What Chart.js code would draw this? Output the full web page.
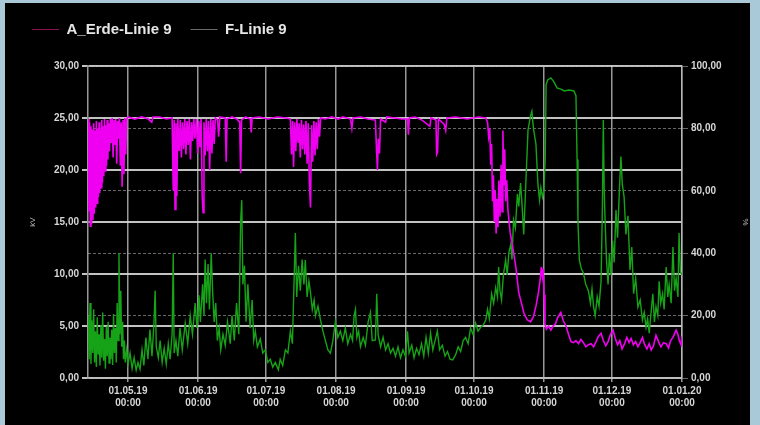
<!DOCTYPE html>
<html>
<head>
<meta charset="utf-8">
<script src="https://cdn.jsdelivr.net/npm/chart.js@4.4.1/dist/chart.umd.min.js"></script>
<style>
    body { margin: 0; background: #a9c8d8; }
    #wrap { position: absolute; left: 5px; top: 3px; width: 745px; height: 422px; background: #000; }
</style>
</head>
<body>
<div id="wrap"><canvas id="canvas"></canvas></div>
<script>
// x = days since 01.05.19
const monthDays = [0, 31, 61, 92, 123, 153, 184, 214, 245];
const monthLabels = ['01.05.19', '01.06.19', '01.07.19', '01.08.19', '01.09.19', '01.10.19', '01.11.19', '01.12.19', '01.01.20'];
const timeLabel = '00:00';

const seriesNames = ['A_Erde-Linie 9', 'F-Linie 9'];

// A_Erde-Linie 9, kV (left axis)
const erdePoints = [
    [-17.6, 24.9], [-17.3, 16.0], [-17.0, 24.6], [-16.7, 14.6], [-16.4, 24.2], [-16.1, 14.8], [-15.8, 23.9], [-15.5, 15.2],
    [-15.2, 24.5], [-14.9, 15.8], [-14.6, 23.8], [-14.3, 16.4], [-14.0, 24.7], [-13.7, 16.8], [-13.4, 24.0], [-13.1, 17.4],
    [-12.8, 24.6], [-12.5, 17.8], [-12.2, 23.9], [-11.9, 18.3], [-11.6, 24.8], [-11.3, 18.8], [-11.0, 24.2], [-10.7, 19.4],
    [-10.4, 24.9], [-10.1, 19.9], [-9.8, 24.3], [-9.5, 20.4], [-9.2, 24.8], [-8.9, 21.0], [-8.6, 24.5], [-8.2, 21.8],
    [-7.8, 24.9], [-7.4, 22.6], [-7.0, 25.0], [-6.6, 21.2], [-6.2, 24.8], [-5.8, 22.4], [-5.4, 24.9], [-5.0, 20.6],
    [-4.6, 24.7], [-4.2, 23.0], [-3.8, 25.0], [-3.4, 20.4], [-3.0, 24.6], [-2.6, 18.4], [-2.2, 24.8], [-1.8, 19.6],
    [-1.4, 25.0], [-1.0, 21.5], [-0.6, 24.9], [0.0, 25.1], [3, 24.9], [6, 25.1], [9, 24.9], [10.5, 24.6], [11, 25.1],
    [14, 25.1], [17, 24.9], [19.5, 25.0], [20.0, 18.0], [20.4, 24.8], [20.8, 16.2], [21.2, 24.5], [21.6, 17.5], [22.0, 24.9],
    [22.6, 21.8], [23.1, 24.8], [23.6, 21.2], [24.1, 24.6], [24.6, 22.0], [25.1, 24.9], [25.6, 21.5], [26.1, 24.7],
    [26.6, 22.4], [27.1, 24.9], [27.6, 21.0], [28.1, 24.6], [28.6, 22.8], [29.1, 24.9], [29.6, 23.0], [30.2, 24.9],
    [30.8, 21.6], [31.3, 24.7], [31.8, 22.2], [32.3, 24.9], [32.8, 17.5], [33.2, 15.9], [33.6, 24.6], [34.1, 21.4],
    [34.6, 24.9], [35.1, 21.8], [35.6, 24.7], [36.1, 20.0], [36.6, 24.9], [37.1, 21.6], [37.6, 24.8], [38.1, 22.5],
    [38.6, 25.0], [39.6, 24.8], [40.1, 23.2], [40.6, 25.1], [43.0, 25.0], [43.4, 20.8], [43.8, 24.9], [46, 25.1],
    [48, 24.9], [49.4, 24.6], [49.8, 19.7], [50.2, 24.8], [52, 25.1], [54.1, 24.9], [54.5, 23.6], [54.9, 25.0],
    [58, 25.1], [62, 24.9], [66, 25.1], [70, 25.0], [71.8, 24.9], [72.3, 21.5], [72.8, 24.7], [73.2, 20.3],
    [73.7, 24.6], [74.2, 21.8], [74.7, 24.9], [75.2, 22.6], [75.7, 24.5], [76.2, 21.2], [76.7, 24.8], [77.2, 22.0],
    [77.7, 24.4], [78.2, 21.5], [78.7, 24.7], [79.2, 20.6], [79.7, 24.5], [80.2, 18.8], [80.7, 16.4], [81.2, 24.3],
    [81.7, 20.8], [82.2, 24.7], [82.7, 21.4], [83.2, 24.6], [83.7, 22.0], [84.2, 24.9], [84.7, 23.2], [85.2, 25.0],
    [87.3, 24.9], [90, 25.1], [93, 24.9], [95, 25.1], [98.4, 24.9], [99.0, 24.0], [99.5, 25.0], [103, 25.1],
    [106, 24.9], [109.4, 24.8], [109.9, 22.0], [110.3, 20.0], [110.7, 23.0], [111.2, 21.6], [111.7, 24.9], [113.9, 24.6],
    [114.4, 25.1], [118, 25.0], [121, 24.9], [123.6, 24.9], [124.0, 23.4], [124.4, 25.0], [127, 25.1], [130, 24.8],
    [133.5, 24.2], [134.0, 25.0], [136.2, 24.8], [136.5, 21.5], [136.9, 21.7], [137.3, 24.9], [139.8, 24.4], [140.5, 23.8],
    [141.0, 25.0], [145, 25.1], [150, 24.9], [155, 25.1], [158.2, 25.0], [159.0, 24.6], [159.5, 23.2], [160.0, 24.0],
    [160.4, 20.5], [160.8, 22.5], [161.2, 17.0], [161.6, 19.5], [162.0, 15.0], [162.4, 18.0], [162.8, 13.9], [163.2, 17.2],
    [163.6, 14.5], [164.0, 19.0], [164.5, 15.5], [165.0, 20.5], [165.4, 16.0], [165.8, 23.8], [166.2, 18.5], [166.6, 22.0],
    [167.0, 17.0], [167.5, 19.0], [168.0, 16.2], [169.0, 14.0], [170.1, 12.6], [171.5, 10.7], [172.8, 8.2], [174.0, 7.2],
    [175.0, 6.3], [176.5, 5.6], [178.0, 5.4], [179.3, 5.9], [180.5, 7.0], [181.5, 8.2], [182.3, 9.5], [182.8, 10.7],
    [183.2, 9.8], [183.6, 10.5], [184.0, 8.0], [184.4, 5.2], [185.0, 4.7], [186.0, 5.0], [187.0, 4.6], [188.0, 5.0],
    [189.0, 5.2], [190.0, 5.8], [191.4, 6.3], [192.5, 5.5], [193.7, 5.0], [194.8, 4.2], [195.9, 3.5], [197.0, 3.4],
    [198.1, 3.6], [199.2, 3.3], [200.3, 3.7], [201.4, 3.4], [202.5, 3.0], [203.6, 3.2], [204.8, 3.3], [205.9, 3.0],
    [207.0, 3.5], [208.0, 4.0], [209.2, 4.3], [210.2, 3.6], [211.3, 3.1], [212.3, 3.5], [213.4, 4.2], [214.5, 4.6],
    [215.5, 3.8], [216.5, 3.2], [217.5, 3.6], [218.5, 2.8], [219.6, 3.3], [220.6, 3.9], [221.6, 3.4], [222.5, 3.8],
    [223.5, 3.2], [224.5, 3.5], [225.5, 3.0], [226.5, 3.4], [227.5, 3.9], [228.5, 3.2], [229.5, 2.8], [230.5, 3.3],
    [231.4, 2.7], [232.4, 3.1], [233.5, 4.1], [234.6, 3.5], [235.7, 3.0], [236.8, 3.4], [238.0, 3.3], [239.0, 2.9],
    [240.0, 3.6], [241.0, 3.9], [242.4, 4.6], [243.2, 4.2], [243.8, 3.6], [244.6, 3.2], [245.0, 4.0]
];

// F-Linie 9, % (right axis)
const fPoints = [
    [-17.6, 20.0], [-17.2, 6.0], [-16.8, 24.0], [-16.4, 4.5], [-16.0, 18.5], [-15.6, 8.0], [-15.2, 22.0], [-14.8, 5.0],
    [-14.4, 15.0], [-14.0, 3.5], [-13.6, 19.5], [-13.2, 7.5], [-12.8, 14.0], [-12.4, 4.0], [-12.0, 17.0], [-11.6, 6.5],
    [-11.2, 21.0], [-10.8, 5.5], [-10.4, 12.5], [-10.0, 3.0], [-9.6, 16.5], [-9.2, 7.0], [-8.8, 18.0], [-8.4, 4.8],
    [-8.0, 13.0], [-7.6, 6.0], [-7.2, 15.5], [-6.8, 4.2], [-6.4, 20.5], [-6.0, 8.0], [-5.6, 16.0], [-5.2, 5.0],
    [-4.8, 24.0], [-4.4, 12.0], [-4.0, 40.0], [-3.6, 14.0], [-3.2, 28.0], [-2.8, 10.0], [-2.4, 18.0], [-2.0, 6.0],
    [-1.6, 12.0], [-1.2, 5.0], [-0.6, 9.0], [0.0, 4.5], [0.9, 8.0], [1.8, 3.0], [2.7, 6.5], [3.6, 2.5],
    [4.4, 5.0], [5.3, 2.8], [6.2, 9.0], [7.0, 4.0], [7.9, 13.0], [8.8, 6.0], [9.7, 15.5], [10.6, 7.0],
    [11.5, 18.0], [12.0, 28.0], [12.5, 10.0], [13.4, 6.5], [14.2, 12.0], [15.1, 5.0], [16.0, 9.5], [16.9, 4.5],
    [17.8, 11.0], [18.6, 6.0], [19.5, 14.0], [20.0, 40.0], [20.4, 8.0], [21.2, 12.0], [22.0, 7.0], [23.0, 16.0],
    [24.0, 9.0], [25.3, 17.5], [26.4, 11.0], [27.5, 20.0], [28.5, 14.0], [29.7, 24.0], [30.5, 16.0], [31.4, 26.5],
    [32.0, 18.0], [33.0, 30.0], [33.6, 20.0], [34.1, 38.0], [34.7, 24.0], [35.4, 36.5], [36.0, 22.0], [36.8, 40.0],
    [37.4, 28.0], [38.1, 18.0], [38.8, 24.0], [39.5, 12.0], [40.3, 16.0], [41.0, 9.0], [42.0, 14.0], [43.0, 10.5],
    [44.0, 18.0], [45.2, 11.0], [46.0, 20.0], [47.0, 12.0], [48.0, 24.0], [49.0, 14.0], [49.8, 50.0], [50.3, 57.0],
    [50.8, 30.0], [51.5, 36.0], [52.2, 18.0], [53.0, 30.0], [54.0, 16.0], [54.9, 25.0], [55.6, 12.0], [56.3, 15.0],
    [57.2, 10.0], [58.5, 12.5], [59.6, 8.0], [60.7, 9.0], [61.8, 5.0], [62.9, 6.0], [64.0, 3.5], [65.1, 5.0],
    [66.5, 2.6], [67.3, 6.0], [68.4, 4.0], [69.6, 9.0], [70.7, 8.0], [71.8, 15.0], [72.7, 11.0], [73.4, 30.0],
    [74.0, 46.5], [74.6, 26.0], [75.4, 36.0], [76.2, 28.0], [77.0, 38.0], [77.8, 30.0], [78.4, 37.8], [79.2, 26.0],
    [80.0, 31.0], [80.6, 28.0], [81.5, 22.0], [82.3, 25.0], [82.9, 20.0], [84.0, 23.0], [85.1, 18.6], [86.2, 15.0],
    [87.3, 12.0], [88.4, 9.0], [89.5, 8.0], [90.6, 12.0], [91.7, 18.0], [92.8, 13.0], [93.9, 15.0], [95.0, 12.0],
    [96.1, 16.0], [97.2, 11.0], [98.4, 14.0], [99.3, 12.0], [100.0, 20.0], [100.6, 22.0], [101.2, 13.0], [102.0, 15.0],
    [102.8, 10.0], [104.0, 13.0], [105.0, 10.5], [106.2, 18.0], [107.2, 21.0], [108.0, 12.0], [109.4, 12.2], [110.0, 27.0],
    [110.6, 14.0], [111.7, 10.0], [112.8, 13.0], [113.9, 9.0], [115.0, 11.0], [116.1, 8.0], [117.2, 9.5], [118.3, 7.0],
    [119.4, 10.0], [120.5, 6.5], [121.6, 9.0], [122.7, 7.0], [123.6, 15.0], [124.3, 8.0], [125.5, 10.5], [126.5, 6.5],
    [127.6, 9.5], [128.7, 7.5], [129.8, 11.0], [130.8, 7.0], [131.8, 13.0], [132.8, 8.0], [133.8, 14.4], [134.8, 9.0],
    [135.8, 12.0], [136.8, 15.0], [137.8, 9.0], [139.0, 10.5], [140.2, 7.0], [141.3, 8.5], [142.4, 6.0], [143.6, 5.8],
    [144.9, 7.5], [146.0, 10.0], [147.1, 8.5], [148.2, 12.0], [149.3, 13.0], [150.4, 11.0], [151.5, 16.0], [152.6, 14.0],
    [153.7, 17.6], [154.8, 15.0], [156.0, 16.3], [157.1, 17.0], [158.2, 18.6], [159.0, 22.0], [159.8, 19.0], [160.8, 27.0],
    [161.7, 24.0], [162.6, 29.0], [163.4, 26.0], [163.9, 35.6], [164.5, 28.0], [165.2, 25.0], [166.0, 33.0], [167.0, 37.8],
    [167.7, 33.0], [168.4, 40.0], [169.3, 43.0], [169.8, 38.0], [170.5, 50.6], [171.3, 48.0], [172.2, 59.0], [172.8, 55.0],
    [173.6, 62.5], [174.3, 55.0], [175.0, 46.0], [175.8, 60.0], [176.9, 79.5], [178.0, 84.0], [178.6, 85.5], [179.3, 80.0],
    [180.4, 75.0], [181.3, 62.0], [182.0, 57.0], [182.6, 61.0], [183.3, 58.0], [183.9, 60.0], [184.5, 70.0], [184.9, 94.0],
    [185.6, 95.5], [187.0, 96.2], [188.3, 95.0], [189.7, 93.0], [191.4, 92.6], [193.0, 92.0], [195.0, 92.3], [197.2, 92.0],
    [198.1, 90.5], [198.6, 70.0], [199.0, 50.0], [199.6, 37.8], [200.5, 35.0], [201.4, 33.7], [202.4, 30.0], [203.6, 28.0],
    [204.5, 24.0], [205.2, 28.5], [205.9, 22.8], [206.6, 20.0], [207.5, 26.0], [208.3, 23.0], [209.2, 31.0], [209.8, 55.0],
    [210.2, 82.7], [210.6, 60.0], [211.0, 50.0], [211.6, 38.0], [212.3, 30.0], [212.9, 40.0], [213.6, 33.0], [214.3, 44.0],
    [215.0, 37.0], [215.8, 53.8], [216.5, 45.0], [217.3, 60.0], [218.0, 71.0], [218.6, 62.0], [219.4, 58.0], [220.2, 46.0],
    [221.1, 52.0], [222.0, 34.6], [222.8, 42.0], [223.6, 27.0], [224.5, 32.0], [225.5, 22.8], [226.5, 25.0], [227.5, 18.6],
    [228.3, 21.0], [229.1, 16.3], [229.8, 19.0], [230.5, 14.4], [231.2, 20.0], [232.1, 27.0], [232.8, 18.0], [233.5, 22.8],
    [234.3, 20.0], [234.9, 31.0], [235.6, 24.0], [236.4, 27.0], [237.1, 22.0], [238.0, 35.6], [238.7, 26.0], [239.3, 30.0],
    [240.2, 24.0], [241.0, 42.0], [241.7, 28.0], [242.4, 32.0], [243.2, 26.0], [243.7, 46.5], [244.3, 34.0], [245.0, 33.0]
];

const kvTicks = [0, 5, 10, 15, 20, 25, 30];
const pctTicks = [0, 20, 40, 60, 80, 100];

function comma(v) {
    return Number(v).toFixed(2).replace('.', ',');
}

var tickFont = { family: 'Liberation Sans', size: 10, weight: 'bold' };

// make the legend block as tall as the space above the plot
var legendHeight = {
    id: 'legendHeight',
    beforeInit: function (chart) {
        var fit = chart.legend.fit;
        chart.legend.fit = function () {
            fit.bind(chart.legend)();
            this.height = 63;
        };
    }
};

window.onload = function () {
    var ctx = document.getElementById('canvas').getContext('2d');
    window.myLine = new Chart(ctx, {
        type: 'line',
        data: {
            datasets: [{
                label: seriesNames[0],
                data: erdePoints.map(p => ({ x: p[0], y: p[1] })),
                borderColor: '#f000f0',
                backgroundColor: '#f000f0',
                borderWidth: 1.6,
                pointRadius: 0,
                yAxisID: 'y'
            }, {
                label: seriesNames[1],
                data: fPoints.map(p => ({ x: p[0], y: p[1] })),
                borderColor: '#17a317',
                backgroundColor: '#17a317',
                borderWidth: 1.4,
                pointRadius: 0,
                yAxisID: 'y1'
            }]
        },
        plugins: [legendHeight],
        options: {
            responsive: true,
            maintainAspectRatio: false,
            animation: false,
            layout: { padding: { left: 8, top: 0, right: 0, bottom: 0 } },
            plugins: {
                tooltip: { enabled: false },
                legend: {
                    position: 'top',
                    align: 'start',
                    labels: {
                        color: '#e6e6e6',
                        font: { family: 'Liberation Sans', size: 15, weight: 'bold' },
                        boxWidth: 27,
                        boxHeight: 1,
                        padding: 19,
                        generateLabels: function (chart) {
                            var items = Chart.defaults.plugins.legend.labels.generateLabels(chart);
                            var dim = ['#8a1050', '#6a6a6a'];
                            items.forEach(function (it, i) {
                                it.fillStyle = dim[i];
                                it.strokeStyle = dim[i];
                                it.lineWidth = 0;
                            });
                            return items;
                        }
                    }
                }
            },
            scales: {
                x: {
                    type: 'linear',
                    min: -17.7,
                    max: 245,
                    z: 1,
                    afterFit: function (scale) { scale.height = 47; },
                    afterBuildTicks: function (axis) {
                        axis.ticks = monthDays.map(v => ({ value: v }));
                    },
                    ticks: {
                        autoSkip: false,
                        maxRotation: 0,
                        color: '#d6d6d6',
                        font: tickFont,
                        padding: 3,
                        callback: function (value) {
                            var i = monthDays.indexOf(value);
                            return i < 0 ? '' : [monthLabels[i], timeLabel];
                        }
                    },
                    grid: { color: 'rgba(190,190,190,0.8)', lineWidth: 1.5, tickLength: 4 },
                    border: { color: 'rgba(190,190,190,0.8)', width: 1.5 }
                },
                y: {
                    position: 'left',
                    min: 0,
                    max: 30,
                    z: 1,
                    afterFit: function (scale) { scale.width = 75; },
                    afterBuildTicks: function (axis) {
                        axis.ticks = kvTicks.map(v => ({ value: v }));
                    },
                    ticks: {
                        color: '#d6d6d6',
                        font: tickFont,
                        padding: 3,
                        callback: comma
                    },
                    title: {
                        display: true,
                        text: 'kV',
                        color: '#bbbbbb',
                        font: { family: 'Liberation Sans', size: 8 },
                        padding: { top: 15, bottom: 0 }
                    },
                    grid: { color: 'rgba(215,215,215,0.9)', lineWidth: 2, tickLength: 6 },
                    border: { color: 'rgba(190,190,190,0.8)', width: 1.5 }
                },
                y1: {
                    position: 'right',
                    min: 0,
                    max: 100,
                    z: 1,
                    afterFit: function (scale) { scale.width = 68; },
                    afterBuildTicks: function (axis) {
                        axis.ticks = pctTicks.map(v => ({ value: v }));
                    },
                    ticks: {
                        color: '#d6d6d6',
                        font: tickFont,
                        padding: 3,
                        callback: comma
                    },
                    title: {
                        display: true,
                        text: '%',
                        color: '#bbbbbb',
                        font: { family: 'Liberation Sans', size: 8 },
                        padding: { top: 0, bottom: 0 }
                    },
                    grid: { color: 'rgba(170,170,170,0.6)', lineWidth: 1, tickLength: 6 },
                    border: { color: 'rgba(190,190,190,0.8)', width: 1.5, dash: [3, 2] }
                }
            }
        }
    });
};
</script>
</body>
</html>
